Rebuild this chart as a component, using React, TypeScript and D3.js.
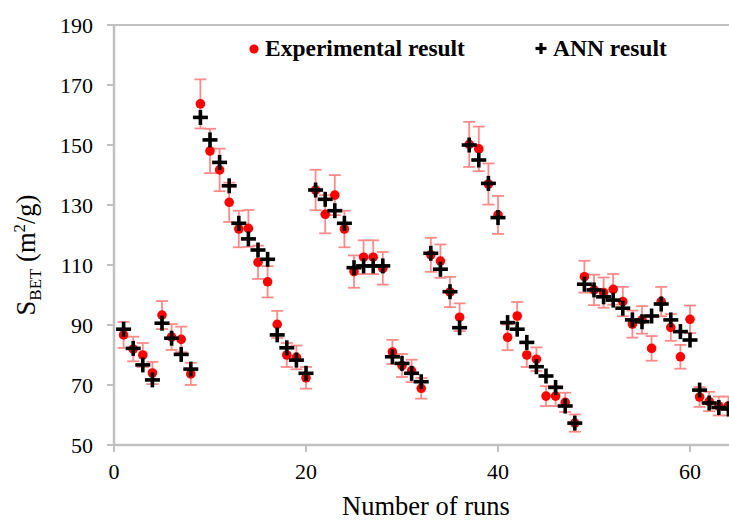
import React from "react";
import * as d3 from "d3";

const runs: number[] = d3.range(1, 65);
const experimental: number[] = [
  86.7, 82, 80, 74, 93.3, 86, 85.2, 73.7,
  163.7, 148, 141.7, 130.9, 122, 122.2, 110.9, 104.4,
  90.2, 80, 79.2, 72.4,
  135, 126.9, 133.3, 122,
  107.8, 112.6, 112.6, 108.9,
  81, 76.5, 74.7, 68.9,
  113.4, 111.3, 101, 92.6,
  150.2, 148.7, 137, 126.7,
  85.9, 93, 80, 78.6, 66.3, 66.3, 64.2, 57.3,
  106.1, 101.7, 100.8, 101.9, 97.8, 90.3, 91.7, 82.2, 97.8, 89.2, 79.4, 91.9,
  66, 64.5, 63, 63,
];
const ann: number[] = [
  88.6, 82.2, 76.7, 71.7, 90.6, 85.6, 80.2, 75.3,
  159.2, 151.7, 144.2, 136.4, 123.9, 118.7, 115, 111.9,
  86.7, 82.4, 78.3, 73.9,
  135, 131.9, 128.1, 123.9,
  109.1, 109.7, 109.7, 109.7,
  79.4, 77.2, 73.9, 71.1,
  113.9, 108.6, 101.1, 89.1,
  150, 145, 137.2, 125.8,
  90.8, 88.6, 84.2, 76.1, 73, 69.2, 63, 57.3,
  103.6, 101.7, 99.4, 98.3, 95.6, 91.7, 91.1, 93, 97, 91.7, 87.8, 85,
  68.3, 64, 62.5, 62,
];
const errorFraction = 0.05;
const xTicks: number[] = [0, 20, 40, 60];
const yTicks: number[] = [50, 70, 90, 110, 130, 150, 170, 190];

const W = 729;
const H = 521;
const FONT = "'Liberation Serif', 'Times New Roman', serif";
const AXIS = "#c0c0c0";
const ERR = "#ff8a8a";

export default function App() {
  const x = d3.scaleLinear().domain([0, 70]).range([114, 114 + 70 * 9.6]);
  const y = d3.scaleLinear().domain([50, 190]).range([445, 25]);
  const x0 = x(0);
  const xEnd = W + 5;
  const cross = (cx: number, cy: number, s: number, sw: number, key?: any) => (
    <g key={key}>
      <line x1={cx - s} x2={cx + s} y1={cy} y2={cy} stroke="#000" strokeWidth={sw} />
      <line x1={cx} x2={cx} y1={cy - s} y2={cy + s} stroke="#000" strokeWidth={sw} />
    </g>
  );
  return (
    <svg
      width={W}
      height={H}
      style={{ position: "absolute", left: 0, top: 0, background: "#fff", overflow: "hidden" }}
      fontFamily={FONT}
    >
      <rect width={W} height={H} fill="#fff" />
      <line x1={x0} x2={xEnd} y1={y(190)} y2={y(190)} stroke={AXIS} strokeWidth={2} />
      <line x1={x0} x2={x0} y1={y(190)} y2={y(50)} stroke={AXIS} strokeWidth={2.5} />
      <line x1={x0} x2={xEnd} y1={y(50)} y2={y(50)} stroke={AXIS} strokeWidth={2.5} />
      {yTicks.map((t) => (
        <g key={"y" + t}>
          <line x1={x0 - 7} x2={x0} y1={y(t)} y2={y(t)} stroke={AXIS} strokeWidth={2} />
          <text x={93} y={y(t)} dy="0.35em" textAnchor="end" fontSize={22} fill="#000">
            {t}
          </text>
        </g>
      ))}
      {xTicks.map((t) => (
        <g key={"x" + t}>
          <line x1={x(t)} x2={x(t)} y1={y(50)} y2={y(50) + 7} stroke={AXIS} strokeWidth={2} />
          <text x={x(t)} y={479} textAnchor="middle" fontSize={22} fill="#000">
            {t}
          </text>
        </g>
      ))}
      <text x={x(32.5)} y={515} textAnchor="middle" fontSize={26.5} fill="#000">
        Number of runs
      </text>
      <text transform={`translate(35,${255}) rotate(-90)`} textAnchor="middle" fontSize={26.5} fill="#000">
        S<tspan fontSize={17} dy={6}>BET</tspan>
        <tspan dy={-6}> (m</tspan>
        <tspan fontSize={17} dy={-10}>2</tspan>
        <tspan dy={10}>/g)</tspan>
      </text>
      {runs.map((r, i) => {
        const v = experimental[i];
        const e = v * errorFraction;
        const cx = x(r);
        return (
          <g key={"e" + r} stroke={ERR} strokeWidth={1.8}>
            <line x1={cx} x2={cx} y1={y(v + e)} y2={y(v - e)} />
            <line x1={cx - 6} x2={cx + 6} y1={y(v + e)} y2={y(v + e)} />
            <line x1={cx - 6} x2={cx + 6} y1={y(v - e)} y2={y(v - e)} />
          </g>
        );
      })}
      {runs.map((r, i) => (
        <circle key={"c" + r} cx={x(r)} cy={y(experimental[i])} r={4.8} fill="#ff0000" />
      ))}
      {runs.map((r, i) => cross(x(r), y(ann[i]), 7.5, 3.6, "a" + r))}
      <circle cx={254} cy={49} r={4.6} fill="#ff0000" />
      <text x={265} y={56} fontSize={23.5} fontWeight="bold" fill="#000">
        Experimental result
      </text>
      {cross(541, 48.5, 5.5, 3.2)}
      <text x={553} y={56} fontSize={23.5} fontWeight="bold" fill="#000">
        ANN result
      </text>
    </svg>
  );
}
